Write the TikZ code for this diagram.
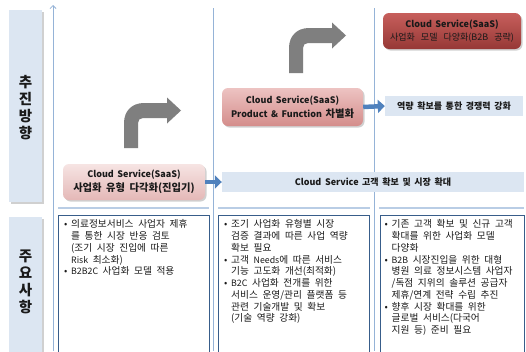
\documentclass[tikz,border=0pt]{standalone}
\usepackage{fontspec}
\setmainfont{Noto Sans CJK KR}
\usetikzlibrary{shadows,arrows.meta}
\definecolor{lblue}{HTML}{DCE6F2}
\definecolor{axisc}{HTML}{95B3D7}
\definecolor{hlinec}{HTML}{B9CDE5}
\definecolor{boxb}{HTML}{385D8A}
\definecolor{arrb}{HTML}{4F81BD}
\definecolor{grayarr}{HTML}{7F7F7F}
\definecolor{pinkA}{HTML}{F6E4E3}
\definecolor{pinkB}{HTML}{E4B8B7}
\definecolor{pinkC}{HTML}{EDC3C2}
\definecolor{pinkD}{HTML}{D48D8B}
\definecolor{redA}{HTML}{C75F5C}
\definecolor{redB}{HTML}{963836}
\definecolor{txt}{HTML}{1A1A1A}
\newcommand{\bul}{\makebox[7pt][l]{•}}
\newcommand{\cnt}{\hspace*{7pt}}
\newcommand{\wsp}[1]{\spaceskip #1\relax}
\newcommand{\lat}[1]{{\fontsize{8.8}{11.75}\selectfont #1}}
\newcommand{\kline}[1]{{\fontsize{10.3}{13.5}\selectfont\wsp{4.5pt}#1}}
\tikzset{
  softshadow/.style={drop shadow={shadow xshift=1.5pt,shadow yshift=-1.5pt,opacity=0.3,fill=black!60}},
  sidebar/.style={fill=lblue, softshadow},
  sidelabel/.style={inner sep=0pt, align=center, text=txt, font={\fontsize{14.5}{17}\selectfont\bfseries}},
  stage/.style={rounded corners=6pt, inner sep=0pt, align=center, text=txt, softshadow,
    font={\fontsize{9}{13.5}\selectfont\bfseries\wsp{3.5pt}}},
  bandbox/.style={fill=lblue, inner sep=0pt, text=txt, font={\fontsize{9}{10}\selectfont\bfseries\wsp{3.6pt}}},
  bluearrow/.style={draw=arrb, line width=4.5pt, -{Triangle[length=7pt,width=13pt]}},
  infobox/.style={draw=boxb, line width=1.1pt, fill=white, inner sep=0pt},
  infotext/.style={inner sep=0pt, align=left, anchor=north west, text=txt,
    font={\fontsize{9.7}{11.75}\selectfont\wsp{4.6pt}}},
  divline/.style={draw=axisc, line width=0.8pt},
  sepline/.style={draw=hlinec, line width=1.3pt},
  bentarrow/.style={fill=grayarr}
}
\begin{document}
\begin{tikzpicture}[x=1pt,y=-1pt]
\useasboundingbox (0,0) rectangle (526,351);
\fill[white] (0,0) rectangle (526,351);

% left side bars
\fill[sidebar] (9,10) rectangle (42,202);
\node[sidelabel] (lab1) at (25.5,108) {추\\진\\방\\향};
\fill[sidebar] (9,217) rectangle (42,360);
\node[sidelabel] (lab2) at (25.5,282) {주\\요\\사\\항};

% axis and dividers
\coordinate (axb) at (53,351);
\coordinate (axt) at (53,5);
\draw[divline, -{Straight Barb[length=3pt,width=6pt]}] (axb) -- (axt);
\coordinate (d1t) at (213,8);
\coordinate (d1b) at (213,351);
\coordinate (d2t) at (374.5,8);
\coordinate (d2b) at (374.5,351);
\draw[divline] (d1t) -- (d1b);
\draw[divline] (d2t) -- (d2b);

% horizontal separators
\draw[sepline] (58,208) -- (209,208);
\draw[sepline] (218,208) -- (370,208);
\draw[sepline] (379,208) -- (524,208);

% bent gray arrows
\foreach \dx/\dy in {0/0, 165/-75}{
\begin{scope}[shift={(\dx,\dy)}]
\fill[bentarrow] (124,148) -- (124,123) .. controls (124,111) and (132,103) .. (144,103)
  -- (167,103) -- (167,97.5) -- (181,110.5) -- (167,123.5) -- (167,118) -- (143,118)
  .. controls (140,118) and (138,120) .. (138,123) -- (138,148) -- cycle;
\end{scope}
}

% stage nodes
\node[stage, top color=pinkA, bottom color=pinkB, minimum width=142pt, minimum height=36pt] (s1) at (134,182)
  {Cloud Service(SaaS)\\\kline{사업화 유형 다각화(진입기)}};
\node[stage, top color=pinkC, bottom color=pinkD, minimum width=141pt, minimum height=38pt] (s2) at (292.5,107)
  {Cloud Service(SaaS)\\\makebox[123pt][l]{Product\hfill\&\hfill Function\hfill \kline{차별화}}};
\node[stage, top color=redA, bottom color=redB, minimum width=138pt, minimum height=36pt, text=black!90,
  font={\fontsize{9}{12.5}\selectfont\wsp{6pt}}] (s3) at (452,31)
  {\textbf{\wsp{3.5pt}Cloud Service(SaaS)}\\사업화 모델 다양화(B2B 공략)};

% bands
\node[bandbox, minimum width=302pt, minimum height=20pt] (band1) at (373,182) {Cloud Service 고객 확보 및 시장 확대};
\node[bandbox, minimum width=138pt, minimum height=20pt] (band2) at (454,106) {역량 확보를 통한 경쟁력 강화};

% blue arrows
\draw[bluearrow] (s1.east) -- (band1.west);
\draw[bluearrow] (s2.east) -- (band2.west);

% info boxes
\node[infobox, minimum width=151pt, minimum height=150pt, anchor=north west] (b1) at (58,215) {};
\node[infobox, minimum width=151pt, minimum height=150pt, anchor=north west] (b2) at (218,215) {};
\node[infobox, minimum width=144pt, minimum height=150pt, anchor=north west] (b3) at (380,215) {};

\node[infotext] (t1) at (64,219.5) {%
\bul 의료정보서비스 사업자 제휴\\
\cnt 를 통한 시장 반응 검토\\
\cnt (조기 시장 진입에 따른\\
\cnt \lat{Risk} 최소화)\\
\bul \lat{B2B2C} 사업화 모델 적용};

\node[infotext] (t2) at (224,219.5) {%
\bul 조기 사업화 유형별 시장\\
\cnt 검증 결과에 따른 사업 역량\\
\cnt 확보 필요\\
\bul 고객 \lat{Needs}에 따른 서비스\\
\cnt 기능 고도화 개선(최적화)\\
\bul \lat{B2C} 사업화 전개를 위한\\
\cnt 서비스 운영/관리 플랫폼 등\\
\cnt 관련 기술개발 및 확보\\
\cnt (기술 역량 강화)};

\node[infotext] (t3) at (384.5,219.5) {%
\bul 기존 고객 확보 및 신규 고객\\
\cnt 확대를 위한 사업화 모델\\
\cnt 다양화\\
\bul \lat{B2B} 시장진입을 위한 대형\\
\cnt 병원 의료 정보시스템 사업자\\
\cnt /독점 지위의 솔루션 공급자\\
\cnt 제휴/연계 전략 수립 추진\\
\bul 향후 시장 확대를 위한\\
\cnt 글로벌 서비스(다국어\\
\cnt 지원 등) 준비 필요};
\end{tikzpicture}
\end{document}
